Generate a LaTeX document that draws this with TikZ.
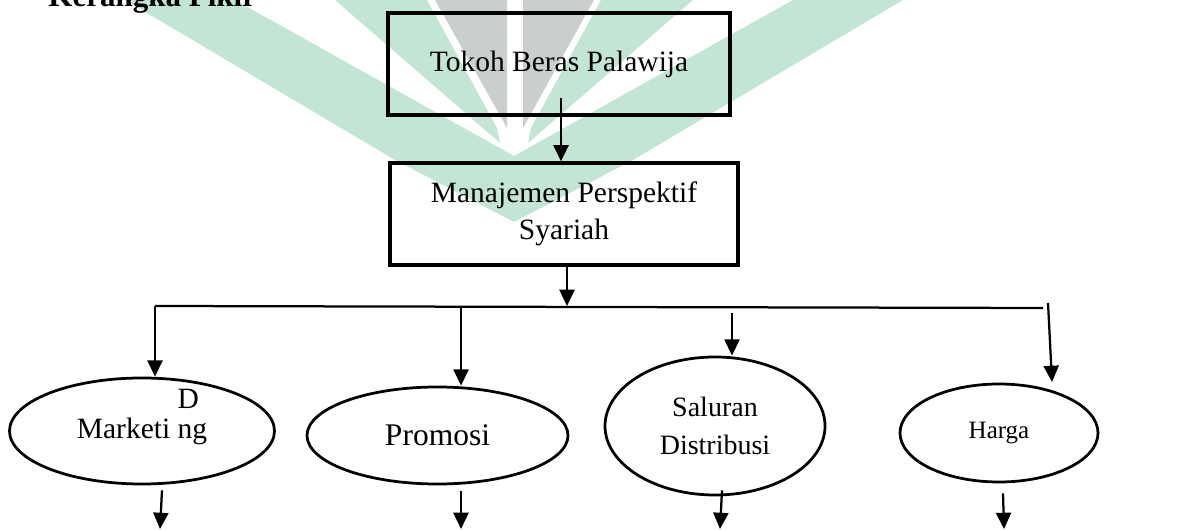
\documentclass[tikz,border=0pt]{standalone}
\usepackage{fontspec}
\setmainfont{Liberation Serif}
\usetikzlibrary{shapes.geometric,arrows.meta}
\definecolor{wmgreen}{RGB}{194,230,211}
\definecolor{wmgray}{RGB}{200,207,204}
\begin{document}
\begin{tikzpicture}[x=0.4pt,y=-0.4pt,
    box/.style={draw,line width=1.3pt,rectangle,align=center,
      font=\fontsize{11.8}{14.8}\selectfont},
    oval/.style={draw,line width=1.1pt,ellipse,inner sep=0pt,align=center},
    arr/.style={line width=0.9pt,-{Triangle[length=6.5pt,width=6pt]}}]
  \useasboundingbox (0,0) rectangle (1177,530);
  \fill[wmgreen] (125,0) -- (235,0) -- (514,156) -- (793,0) -- (903,0)
    -- (633,160) -- (514,222) -- (395,160) -- cycle;
  \fill[wmgreen] (335,0) -- (427,0) -- (497,128) -- (500,143) -- cycle;
  \fill[wmgreen] (693,0) -- (601,0) -- (531,128) -- (528,143) -- cycle;
  \fill[wmgray] (435,0) -- (507,0) -- (507,128) -- cycle;
  \fill[wmgray] (523,0) -- (594,0) -- (523,128) -- cycle;
  \draw
    (48,7) node[anchor=base west,inner sep=0pt,font=\fontsize{12.4}{14}\selectfont\bfseries] (title) {Kerangka Pikir}
    (559,64) node[box,minimum width=136.8pt,minimum height=40.8pt] (tokoh) {Tokoh Beras Palawija}
    (564,214) node[box,minimum width=139.2pt,minimum height=40.8pt] (manaj) {Manajemen Perspektif\\Syariah}
    (142,431) node[oval,minimum width=106pt,minimum height=42.4pt,font=\fontsize{11.8}{14}\selectfont] (mkt)
      {Marketi \rlap{\smash{\raisebox{12pt}{D}}}ng}
    (437.5,435.5) node[oval,minimum width=104.4pt,minimum height=38.8pt,font=\fontsize{12.6}{14}\selectfont] (promosi) {Promosi}
    (715,426) node[oval,minimum width=88pt,minimum height=55.2pt,font=\fontsize{11.2}{15.2}\selectfont] (saluran) {Saluran\\Distribusi}
    (999,433) node[oval,minimum width=79.2pt,minimum height=39.2pt,font=\fontsize{10}{12}\selectfont] (harga) {Harga};
  \coordinate (t0) at ([shift={(2,-19)}]tokoh.south);
  \coordinate (bl) at (155,306);
  \coordinate (br) at (1043,308);
  \coordinate (p0) at (461,308);
  \coordinate (s0) at (732,313);
  \coordinate (h0) at (1048,303);
  \coordinate (h1) at (1052,382);
  \coordinate (mktend) at (160,529);
  \coordinate (promosiend) at (461,529);
  \coordinate (saluranend) at (720,529);
  \coordinate (hargaend) at (1004,529);
  \begin{scope}[arr]
    \draw (t0) -- (t0 |- manaj.north);
    \draw ([xshift=1.2pt]manaj.south) -- ([xshift=1.2pt]manaj.south |- bl);
    \draw[-] (bl) -- (br);
    \draw (bl) -- (bl |- mkt.north);
    \draw (p0) -- (p0 |- promosi.north);
    \draw (s0) -- (s0 |- saluran.north);
    \draw (h0) -- (h1);
    \draw ([shift={(20,5)}]mkt.south) -- (mktend);
    \draw ([shift={(23.5,6)}]promosi.south) -- (promosiend);
    \draw ([shift={(7,-6)}]saluran.south) -- (saluranend);
    \draw ([shift={(4,10)}]harga.south) -- (hargaend);
  \end{scope}
\end{tikzpicture}
\end{document}
